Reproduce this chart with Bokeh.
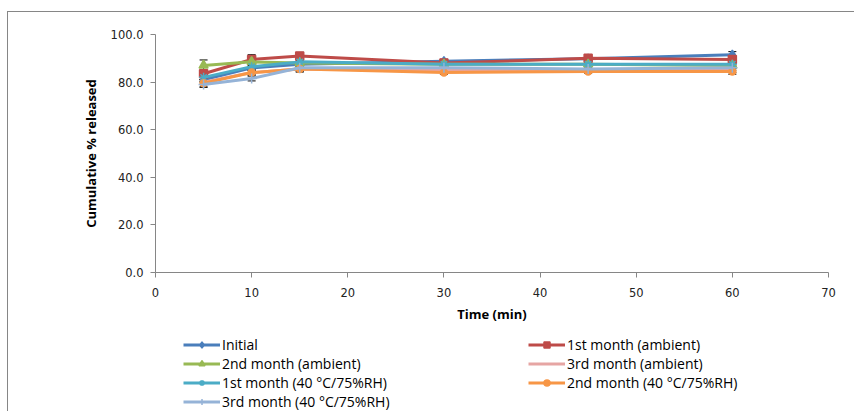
from bokeh.plotting import figure
from bokeh.layouts import column
from bokeh.models import (Legend, LegendItem, Whisker, ColumnDataSource, FixedTicker,
                          NumeralTickFormatter, TeeHead, Range1d)
from bokeh.embed import file_html
from bokeh.resources import INLINE

# ---- data ----
time_min = [5, 10, 15, 30, 45, 60]

series_names = [
    "Initial",
    "1st month (ambient)",
    "2nd month (ambient)",
    "3rd month (ambient)",
    "1st month (40 °C/75%RH)",
    "2nd month (40 °C/75%RH)",
    "3rd month (40 °C/75%RH)",
]
initial        = [81.0, 86.0, 87.5, 88.8, 89.8, 91.5]
m1_ambient     = [83.5, 89.5, 91.0, 88.0, 90.0, 89.5]
m2_ambient     = [87.0, 88.5, 88.0, 87.5, 87.5, 87.0]
m3_ambient     = [80.0, 84.0, 85.5, 85.0, 85.0, 85.0]
m1_40c         = [82.0, 86.5, 88.5, 87.5, 87.5, 87.5]
m2_40c         = [79.5, 84.0, 85.5, 84.0, 84.5, 84.5]
m3_40c         = [79.0, 81.5, 86.0, 86.0, 85.5, 86.0]

sd_initial     = [1.0, 1.0, 1.0, 0.8, 0.8, 1.3]
sd_m1_ambient  = [1.0, 2.0, 1.5, 0.8, 0.8, 1.0]
sd_m2_ambient  = [2.3, 1.0, 1.0, 0.8, 0.8, 1.0]
sd_m3_ambient  = [1.0, 1.0, 1.0, 0.8, 0.8, 1.0]
sd_m1_40c      = [1.0, 1.0, 1.0, 0.8, 0.8, 1.0]
sd_m2_40c      = [1.5, 1.0, 1.3, 0.8, 0.8, 1.2]
sd_m3_40c      = [1.2, 1.0, 1.0, 0.8, 0.8, 1.0]

y_ticks = [0, 20, 40, 60, 80, 100]
x_ticks = [0, 10, 20, 30, 40, 50, 60, 70]

values = [initial, m1_ambient, m2_ambient, m3_ambient, m1_40c, m2_40c, m3_40c]
sds = [sd_initial, sd_m1_ambient, sd_m2_ambient, sd_m3_ambient, sd_m1_40c, sd_m2_40c, sd_m3_40c]
colors = ["#4A7EBB", "#BE4B48", "#98B954", "#E6A5A3", "#4BACC6", "#F79646", "#95B3D7"]
markers = ["diamond", "square", "triangle", None, "asterisk", "circle", "cross"]
msizes = [9, 8, 9, 0, 9, 7, 10]

AX = "#868686"

# main chart
p = figure(width=846, height=318, output_backend="svg", toolbar_location=None,
           x_range=(0, 70), y_range=(0, 100),
           min_border_left=147, min_border_right=26, min_border_top=22, min_border_bottom=58)
p.outline_line_color = None
p.grid.visible = False
p.background_fill_color = "white"
p.border_fill_color = "white"

for ax in (p.xaxis[0], p.yaxis[0]):
    ax.axis_line_color = AX
    ax.major_tick_line_color = AX
    ax.minor_tick_line_color = None
    ax.major_tick_out = 5
    ax.major_tick_in = 0
    ax.major_label_text_font = "DejaVu Sans"
    ax.major_label_text_font_size = "11.5px"
    ax.major_label_text_color = "#222222"
    ax.axis_label_text_font = "Open Sans"
    ax.axis_label_text_font_style = "bold"
    ax.axis_label_text_font_size = "13px"
    ax.axis_label_text_color = "#000000"

p.xaxis.ticker = FixedTicker(ticks=x_ticks)
p.yaxis.ticker = FixedTicker(ticks=y_ticks)
p.yaxis.formatter = NumeralTickFormatter(format="0.0")
p.xaxis.axis_label = "Time (min)"
p.yaxis.axis_label = "Cumulative % released"
p.xaxis.major_label_standoff = 10
p.yaxis.major_label_standoff = 7
p.xaxis.axis_label_standoff = 5
p.yaxis.axis_label_standoff = 8

# legend strip (its frame is aligned with the chart's frame by the column layout)
p2 = figure(width=846, height=81, output_backend="svg", toolbar_location=None,
            x_range=Range1d(0, 1), y_range=Range1d(0, 1),
            min_border_left=147, min_border_right=26, min_border_top=0, min_border_bottom=0)
p2.axis.visible = False
p2.grid.visible = False
p2.outline_line_color = None
p2.border_fill_color = "white"

items = []
for name, vals, sd, col, mk, ms in zip(series_names, values, sds, colors, markers, msizes):
    src = ColumnDataSource(dict(x=time_min, y=vals,
                                upper=[v + s for v, s in zip(vals, sd)],
                                lower=[v - s for v, s in zip(vals, sd)]))
    w = Whisker(base="x", upper="upper", lower="lower", source=src,
                line_color="black", line_width=1,
                upper_head=TeeHead(size=8, line_color="black", line_width=1),
                lower_head=TeeHead(size=8, line_color="black", line_width=1),
                level="underlay")
    p.add_layout(w)
    p.line("x", "y", source=src, line_color=col, line_width=3)
    if mk is not None:
        p.scatter("x", "y", source=src, marker=mk, size=ms,
                  fill_color=col, line_color=col, line_width=1.5)
    # legend proxies in the legend strip (same data, outside its visible range)
    rl = p2.line("x", "y", source=src, line_color=col, line_width=3)
    rends = [rl]
    if mk is not None:
        rm = p2.scatter("x", "y", source=src, marker=mk, size=ms, fill_color=col,
                        line_color=col, line_width=1.5)
        rends.append(rm)
    items.append(LegendItem(label=name, renderers=rends))

def make_legend(its, loc):
    return Legend(items=its, location=loc, orientation="vertical",
                  padding=0, margin=0, spacing=0, label_standoff=2,
                  glyph_width=37, glyph_height=15, label_height=15,
                  label_text_font="Open Sans", label_text_font_size="14px",
                  label_text_color="#000000",
                  border_line_color=None, background_fill_alpha=0)

p2.add_layout(make_legend([items[0], items[2], items[4], items[6]], (28, 0)))
p2.add_layout(make_legend([items[1], items[3], items[5]], (373, 19)))

layout = column(p, p2, spacing=0)
layout.margin = (11, 0, 0, 7)
layout.styles = {"border-left": "1px solid #868686", "border-top": "1px solid #868686"}

open("out.html", "w").write(file_html(layout, INLINE))
